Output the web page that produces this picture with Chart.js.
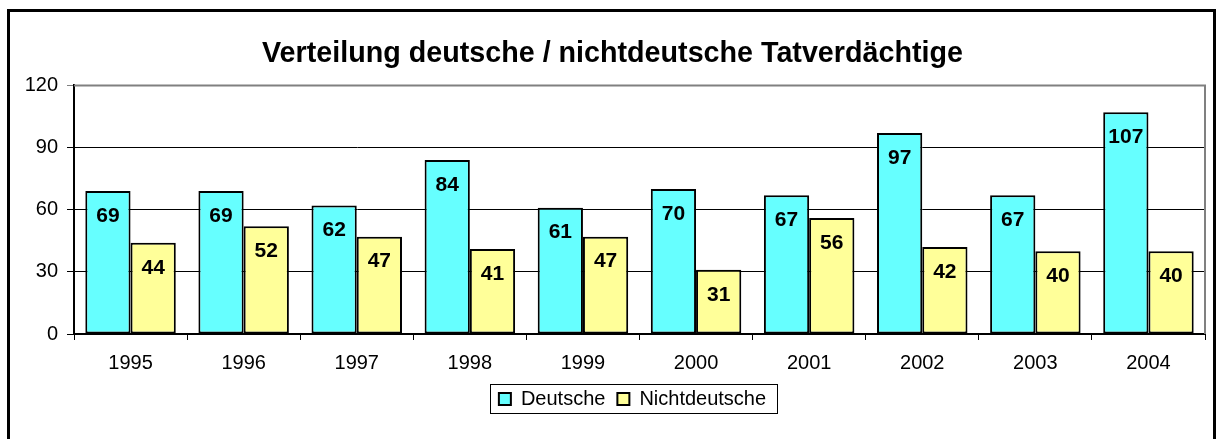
<!DOCTYPE html>
<html>
<head>
<meta charset="utf-8">
<script src="https://cdn.jsdelivr.net/npm/chart.js@4"></script>
<style>
  html, body { margin: 0; padding: 0; background: #fff; }
  #wrap { width: 1216px; height: 439px; }
</style>
</head>
<body>
<div id="wrap"><canvas id="myChart" width="1216" height="439"></canvas></div>
<script>
// chart data
var years = ['1995', '1996', '1997', '1998', '1999', '2000', '2001', '2002', '2003', '2004'];
var deutsche = [69, 69, 62, 84, 61, 70, 67, 97, 67, 107];
var nichtdeutsche = [44, 52, 47, 41, 47, 31, 56, 42, 40, 40];
var yTicks = [0, 30, 60, 90, 120];

var FONT = '"Liberation Sans", Arial, sans-serif';

// frame around the whole picture + gray plot border
var framePlugin = {
  id: 'frame',
  afterLayout: function(chart) {
    // nudge title and legend a little to the right, like the original
    if (chart.titleBlock) { chart.titleBlock.left += 10; chart.titleBlock.right += 10; }
    if (chart.legend) { chart.legend.left += 30; chart.legend.right += 30; }
  },
  beforeDraw: function(chart) {
    var c = chart.ctx;
    c.save();
    c.fillStyle = '#fff';
    c.fillRect(0, 0, chart.width, chart.height);
    c.fillStyle = '#000';
    c.fillRect(7, 9, 3, 440);
    c.fillRect(7, 9, 1209, 3);
    c.fillRect(1213, 9, 3, 440);
    c.restore();
  },
  beforeDatasetsDraw: function(chart) {
    var a = chart.chartArea, c = chart.ctx;
    c.save();
    c.strokeStyle = '#808080';
    c.lineWidth = 2;
    c.beginPath();
    c.moveTo(a.left, a.top);
    c.lineTo(a.right, a.top);
    c.lineTo(a.right, a.bottom);
    c.stroke();
    c.restore();
  }
};

// value labels inside the top of each bar
var valuePlugin = {
  id: 'values',
  afterDatasetsDraw: function(chart) {
    var c = chart.ctx;
    c.save();
    c.font = 'bold 21px ' + FONT;
    c.fillStyle = '#000';
    c.textAlign = 'center';
    c.textBaseline = 'middle';
    chart.data.datasets.forEach(function(ds, i) {
      chart.getDatasetMeta(i).data.forEach(function(bar, j) {
        c.fillText(ds.data[j], bar.x, bar.y + 25);
      });
    });
    c.restore();
  }
};

// box around the legend
var legendBox = {
  id: 'legendBox',
  afterDraw: function(chart) {
    var boxes = chart.legend.legendHitBoxes;
    if (!boxes || !boxes.length) return;
    var l = Infinity, r = -Infinity, t = Infinity, b = -Infinity;
    boxes.forEach(function(h) {
      l = Math.min(l, h.left); r = Math.max(r, h.left + h.width);
      t = Math.min(t, h.top); b = Math.max(b, h.top + h.height);
    });
    var mid = Math.round((t + b) / 2);
    var c = chart.ctx;
    c.save();
    c.strokeStyle = '#000';
    c.lineWidth = 1;
    c.strokeRect(Math.round(l) - 8.5, mid - 14.5, Math.round(r - l) + 20, 29);
    c.restore();
  }
};

var ctx = document.getElementById('myChart').getContext('2d');
var myChart = new Chart(ctx, {
  type: 'bar',
  data: {
    labels: years,
    datasets: [{
      label: 'Deutsche',
      data: deutsche,
      backgroundColor: '#66FFFF',
      borderColor: '#000',
      borderWidth: 2,
      borderSkipped: false
    }, {
      label: 'Nichtdeutsche',
      data: nichtdeutsche,
      backgroundColor: '#FFFF99',
      borderColor: '#000',
      borderWidth: 2,
      borderSkipped: false
    }]
  },
  options: {
    responsive: false,
    animation: false,
    devicePixelRatio: 1,
    layout: { padding: { left: 0, right: 11, top: 0, bottom: 20 } },
    datasets: { bar: { categoryPercentage: 0.8, barPercentage: 1.0 } },
    plugins: {
      title: {
        display: true,
        text: 'Verteilung deutsche / nichtdeutsche Tatverdächtige',
        color: '#000',
        font: { family: FONT, size: 28.7, weight: 'bold' },
        padding: { top: 37, bottom: 14 }
      },
      legend: {
        position: 'bottom',
        labels: {
          color: '#000',
          font: { family: FONT, size: 20 },
          boxWidth: 12,
          boxHeight: 12,
          padding: 12
        }
      },
      tooltip: { enabled: false }
    },
    scales: {
      x: {
        grid: {
          offset: true,
          drawOnChartArea: false,
          drawTicks: true,
          tickLength: 6,
          color: '#000',
          lineWidth: 1
        },
        border: { display: true, color: '#000', width: 2 },
        ticks: {
          color: '#000',
          font: { family: FONT, size: 20 },
          padding: 11,
          maxRotation: 0
        },
        afterFit: function(scale) { scale.height = 43; }
      },
      y: {
        min: 0,
        max: 120,
        grid: {
          color: function(c) { return c.tick && c.tick.value === 120 ? '#808080' : '#000'; },
          lineWidth: 1,
          tickLength: 7
        },
        border: { display: true, color: '#000', width: 2 },
        ticks: {
          color: '#000',
          font: { family: FONT, size: 20 },
          padding: 9,
          stepSize: 30,
          callback: function(value) { return yTicks.indexOf(value) >= 0 ? value : ''; }
        },
        afterFit: function(scale) { scale.width = 74; }
      }
    }
  },
  plugins: [framePlugin, valuePlugin, legendBox]
});
</script>
</body>
</html>
